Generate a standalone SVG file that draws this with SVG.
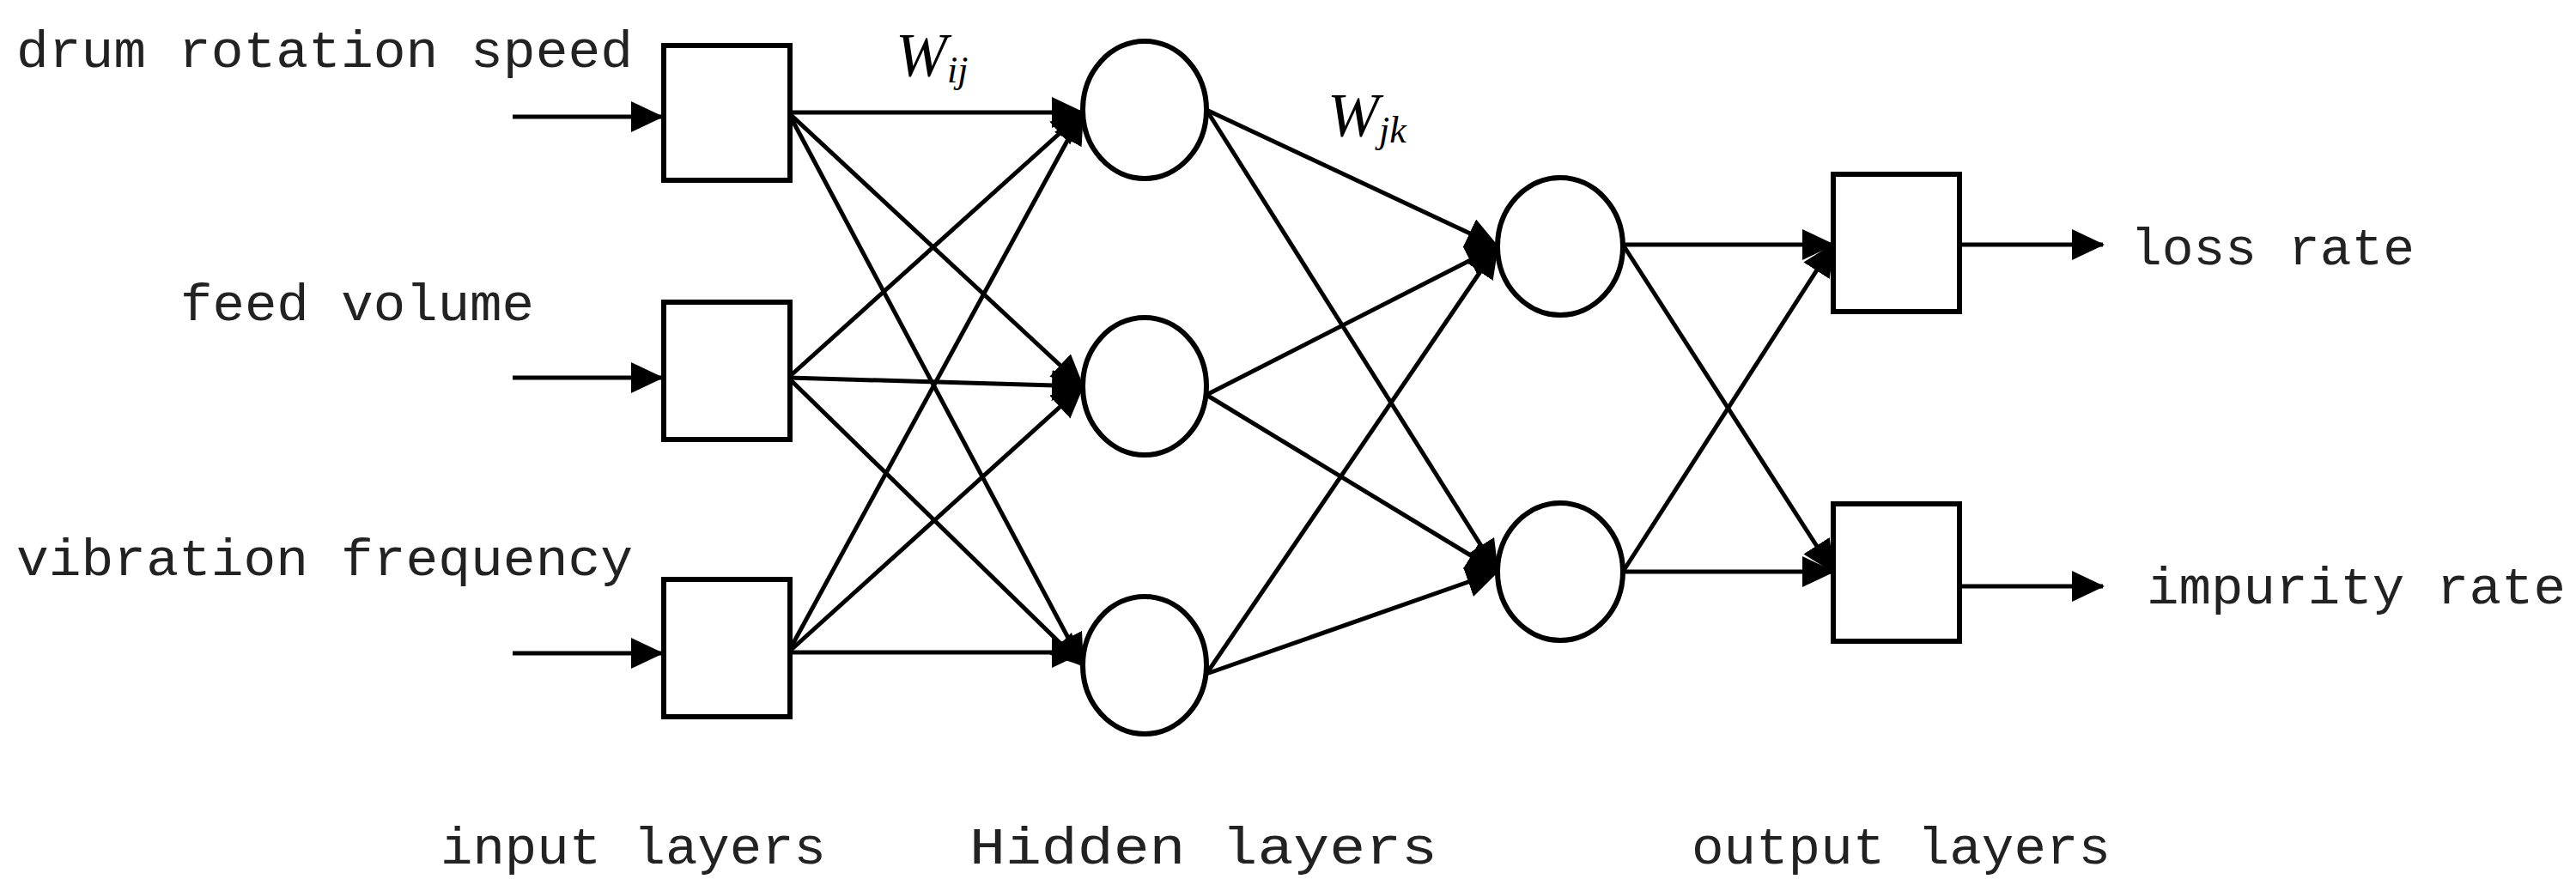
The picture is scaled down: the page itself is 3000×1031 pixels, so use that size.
<svg xmlns="http://www.w3.org/2000/svg" width="3000" height="1031" viewBox="0 0 3000 1031">
<style>
.n{fill:#fff;stroke:#000;stroke-width:6}
.c line{stroke:#000;stroke-width:5;marker-end:url(#ah)}
.t{font-family:"Liberation Mono",monospace;font-size:62px;fill:#222}
.w{font-family:"Liberation Serif",serif;font-style:italic;fill:#000}
</style>
<defs>
<marker id="ah" markerUnits="userSpaceOnUse" markerWidth="40" markerHeight="40" refX="36" refY="18" orient="auto"><path d="M0,0 L38,18 L0,36 Z" fill="#000"/></marker>
</defs>
<rect width="3000" height="1031" fill="#fff"/>
<g class="c" id="connectors">
<line x1="597" y1="136" x2="771" y2="136"/>
<line x1="597" y1="440" x2="771" y2="440"/>
<line x1="597" y1="761" x2="771" y2="761"/>
<line x1="918" y1="131" x2="1261" y2="131"/>
<line x1="918" y1="131" x2="1261" y2="450"/>
<line x1="918" y1="131" x2="1261" y2="775"/>
<line x1="918" y1="440" x2="1261" y2="131"/>
<line x1="918" y1="440" x2="1261" y2="450"/>
<line x1="918" y1="440" x2="1261" y2="775"/>
<line x1="918" y1="760" x2="1261" y2="131"/>
<line x1="918" y1="760" x2="1261" y2="450"/>
<line x1="918" y1="760" x2="1261" y2="760"/>
<line x1="1405" y1="128" x2="1744" y2="287"/>
<line x1="1405" y1="128" x2="1744" y2="666"/>
<line x1="1405" y1="460" x2="1744" y2="287"/>
<line x1="1405" y1="460" x2="1744" y2="666"/>
<line x1="1405" y1="785" x2="1744" y2="287"/>
<line x1="1405" y1="785" x2="1744" y2="666"/>
<line x1="1890" y1="285" x2="2135" y2="285"/>
<line x1="1890" y1="285" x2="2135" y2="666"/>
<line x1="1890" y1="666" x2="2135" y2="285"/>
<line x1="1890" y1="666" x2="2135" y2="666"/>
<line x1="2282" y1="285" x2="2449" y2="285"/>
<line x1="2282" y1="683" x2="2449" y2="683"/>
</g>
<g id="in1"><rect class="n" x="773" y="53" width="147" height="157"/></g>
<g id="in2"><rect class="n" x="773" y="352" width="147" height="160"/></g>
<g id="in3"><rect class="n" x="773" y="675" width="147" height="160"/></g>
<g id="h1"><ellipse class="n" cx="1333" cy="128" rx="72" ry="80"/></g>
<g id="h2"><ellipse class="n" cx="1333" cy="450" rx="72" ry="80"/></g>
<g id="h3"><ellipse class="n" cx="1333" cy="775" rx="72" ry="80"/></g>
<g id="k1"><ellipse class="n" cx="1817" cy="287" rx="73" ry="80"/></g>
<g id="k2"><ellipse class="n" cx="1817" cy="666" rx="73" ry="80"/></g>
<g id="o1"><rect class="n" x="2135" y="203" width="147" height="160"/></g>
<g id="o2"><rect class="n" x="2135" y="587" width="147" height="160"/></g>
<g id="labels">
<text class="t" x="19" y="78" textLength="718" lengthAdjust="spacingAndGlyphs">drum rotation speed</text>
<text class="t" x="210" y="373" textLength="412" lengthAdjust="spacingAndGlyphs">feed volume</text>
<text class="t" x="19" y="670" textLength="718" lengthAdjust="spacingAndGlyphs">vibration frequency</text>
<text class="t" x="2481" y="308" textLength="331" lengthAdjust="spacingAndGlyphs">loss rate</text>
<text class="t" x="2500" y="703" textLength="488" lengthAdjust="spacingAndGlyphs">impurity rate</text>
<text class="t" x="513" y="1006" textLength="449" lengthAdjust="spacingAndGlyphs">input layers</text>
<text class="t" x="1129" y="1006" textLength="545" lengthAdjust="spacingAndGlyphs">Hidden layers</text>
<text class="t" x="1970" y="1006" textLength="488" lengthAdjust="spacingAndGlyphs">output layers</text>
<text class="w" x="1043" y="88" font-size="72">W<tspan font-size="44" dy="8">ij</tspan></text>
<text class="w" x="1546" y="158" font-size="72">W<tspan font-size="44" dy="8">jk</tspan></text>
</g>
</svg>
